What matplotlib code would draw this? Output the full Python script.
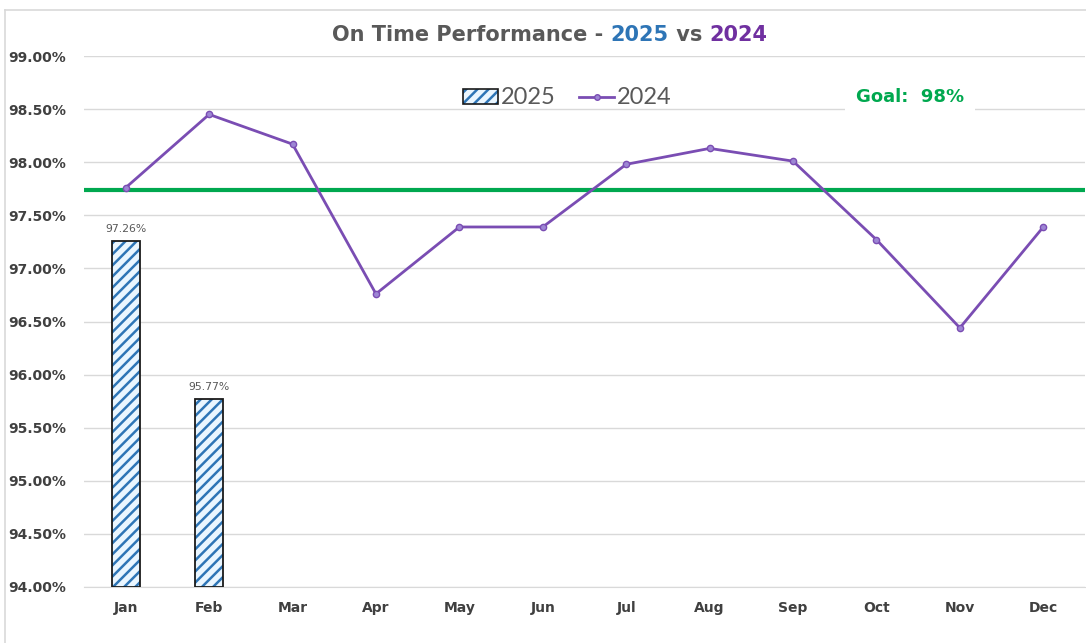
import matplotlib
matplotlib.use("Agg")
import matplotlib.pyplot as plt
from matplotlib.patches import Patch
from matplotlib.lines import Line2D
from matplotlib.ticker import FuncFormatter, MultipleLocator

months = ["Jan", "Feb", "Mar", "Apr", "May", "Jun", "Jul", "Aug", "Sep", "Oct", "Nov", "Dec"]
otp_2025 = [97.26, 95.77]
otp_2024 = [97.76, 98.45, 98.17, 96.76, 97.39, 97.39, 97.98, 98.13, 98.01, 97.27, 96.44, 97.39]
goal_value = 97.74
goal_label = "Goal:  98%"

plt.rcParams["hatch.linewidth"] = 1.8
plt.rcParams["font.family"] = ["DejaVu Sans"]

W, H = 1086, 643
fig = plt.figure(figsize=(W / 100, H / 100), dpi=100)
ax = fig.add_axes([84 / W, 1 - 587 / H, (1085 - 84) / W, (587 - 56) / H])

x = list(range(len(months)))

# 2025 bars (hatched)
bx = x[:len(otp_2025)]
ax.bar(bx, [v - 94 for v in otp_2025], bottom=94, width=0.335, color="#EAF6FF",
       edgecolor="#2E75B6", hatch="///", linewidth=0, zorder=2)
ax.bar(bx, [v - 94 for v in otp_2025], bottom=94, width=0.335, fill=False,
       edgecolor="#1a1a1a", linewidth=1.3, zorder=3)
for xi, v in zip(bx, otp_2025):
    ax.annotate(f"{v:.2f}%", (xi, v), xytext=(0, 5), textcoords="offset points",
                ha="center", va="bottom", fontsize=7.8, color="#595959")

# 2024 line
ax.plot(x, otp_2024, color="#7A4DB3", lw=2, marker="o", ms=4.5,
        markerfacecolor="#9D86D4", markeredgecolor="#7A4DB3", zorder=4)

# Goal line
ax.axhline(goal_value, color="#00A84F", lw=3, zorder=3)

ax.set_xlim(-0.5, len(months) - 0.5)
ax.set_ylim(94, 99)
ax.yaxis.set_major_locator(MultipleLocator(0.5))
ax.yaxis.set_major_formatter(FuncFormatter(lambda v, p: f"{v:.2f}%"))
ax.set_xticks(x)
ax.set_xticklabels(months)
ax.grid(axis="y", color="#D9D9D9", lw=1, zorder=0)
ax.set_axisbelow(True)
for s in ["left", "right", "top"]:
    ax.spines[s].set_visible(False)
ax.spines["bottom"].set_color("#D9D9D9")
ax.tick_params(axis="both", length=0, labelsize=10, labelcolor="#404040")
ax.tick_params(axis="y", pad=13)
ax.tick_params(axis="x", pad=10)
for lab in ax.get_xticklabels() + ax.get_yticklabels():
    lab.set_fontweight("bold")

# Goal text with white background
ax.text(910 / W, 1 - 97 / H, goal_label, transform=fig.transFigure, ha="center", va="center",
        fontsize=13, color="#00A84F", fontweight="bold",
        bbox=dict(facecolor="white", edgecolor="none", boxstyle="square,pad=0.6"), zorder=5)

# Legend
bar_handle = (Patch(facecolor="#EAF6FF", edgecolor="#2E75B6", hatch="///", linewidth=0),
              Patch(fill=False, edgecolor="#1a1a1a", linewidth=1.2))
line_handle = Line2D([0], [0], color="#7A4DB3", lw=2, marker="o", ms=4,
                     markerfacecolor="#9D86D4", markeredgecolor="#7A4DB3")
leg = fig.legend([bar_handle, line_handle], ["2025", "2024"], loc="center",
                 bbox_to_anchor=(567 / W, 1 - 98 / H),
                 ncol=2, frameon=False, handlelength=1.5, handleheight=0.6, handletextpad=0.1,
                 columnspacing=1.0, labelcolor="#595959",
                 prop={"family": ["Lato", "DejaVu Sans"], "size": 17})

# Title with multiple colors
parts = [("On Time Performance - ", "#595959"), ("2025", "#2E75B6"), (" vs ", "#595959"), ("2024", "#7030A0")]
ty = 1 - 35 / H
texts = []
for s, c in parts:
    t = fig.text(0, ty, s, color=c, fontsize=15, fontweight="bold",
                 family="DejaVu Sans", va="center", ha="left")
    texts.append(t)
fig.canvas.draw()
r = fig.canvas.get_renderer()
widths = [t.get_window_extent(r).width for t in texts]
total = sum(widths)
xs = 550 - total / 2
for t, w in zip(texts, widths):
    t.set_x(xs / W)
    xs += w

# Border lines
fig.add_artist(Line2D([5 / W, 1], [1 - 10 / H, 1 - 10 / H], transform=fig.transFigure, color="#D9D9D9", lw=1.2))
fig.add_artist(Line2D([5 / W, 5 / W], [0, 1 - 10 / H], transform=fig.transFigure, color="#D9D9D9", lw=1.2))

fig.savefig("out.png", dpi=100)
